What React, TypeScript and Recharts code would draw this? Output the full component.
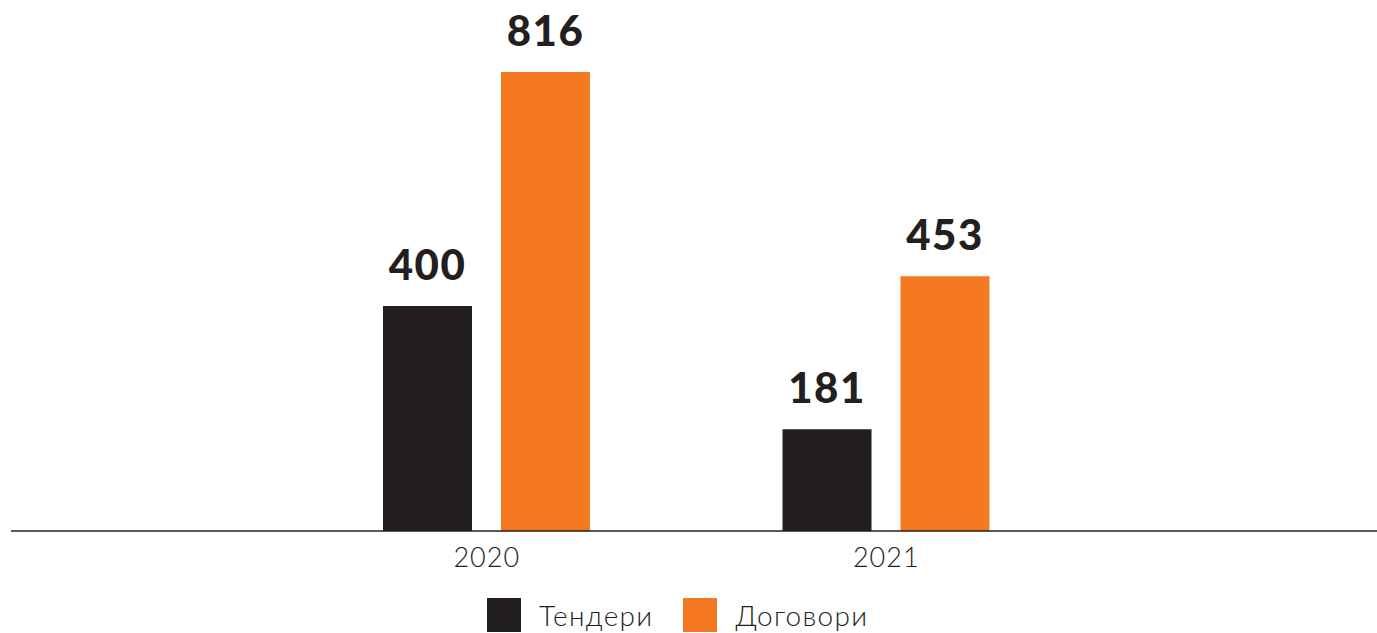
import React from "react";
import { BarChart, Bar, XAxis, YAxis, Legend, LabelList } from "recharts";

const categories = ["2020", "2021"];
const tenders = [400, 181];
const contracts = [816, 453];
const seriesNames = ["Тендери", "Договори"];
const seriesColors = ["#231f20", "#f47920"];

const data = categories.map((c, i) => ({
  year: c,
  tenders: tenders[i],
  contracts: contracts[i],
}));

const FONT = "Lato, 'Open Sans', sans-serif";

const renderLegend = () => {
  return (
    <div
      style={{
        display: "flex",
        alignItems: "center",
        paddingLeft: 487,
        height: 34,
        fontFamily: FONT,
      }}
    >
      {seriesNames.map((name, i) => (
        <div
          key={name}
          style={{ display: "flex", alignItems: "center", marginRight: 30 }}
        >
          <div style={{ width: 34, height: 34, background: seriesColors[i] }} />
          <span
            style={{
              marginLeft: 18,
              fontSize: 28,
              fontWeight: 300,
              color: "#231f20",
              lineHeight: "34px",
              letterSpacing: 1.3,
            }}
          >
            {name}
          </span>
        </div>
      ))}
    </div>
  );
};

const labelStyle = {
  fill: "#231f20",
  fontSize: 42,
  fontWeight: 900,
  fontFamily: FONT,
  letterSpacing: 1.5,
};

export default function App() {
  return (
    <div style={{ position: "absolute", left: 0, top: 0, width: 1377, height: 633, background: "#fff" }}>
      <BarChart
        width={1377}
        height={633}
        data={data}
        margin={{ top: 72, right: 0, bottom: 1, left: 11 }}
        barSize={89}
        barGap={29}
      >
        <XAxis
          dataKey="year"
          height={67}
          padding={{ left: 276, right: 291 }}
          axisLine={{ stroke: "#231f20", strokeWidth: 1.5 }}
          tickLine={false}
          tickSize={0}
          tickMargin={17}
          tick={{ fill: "#231f20", fontSize: 27, fontWeight: 300, fontFamily: FONT, letterSpacing: 1 }}
        />
        <YAxis hide domain={[0, 816]} />
        <Legend
          verticalAlign="bottom"
          content={renderLegend}
          wrapperStyle={{ left: 0, width: 1377, bottom: 1, height: 34 }}
        />
        <Bar dataKey="tenders" name={seriesNames[0]} fill={seriesColors[0]} isAnimationActive={false}>
          <LabelList dataKey="tenders" position="top" offset={26} style={labelStyle} />
        </Bar>
        <Bar dataKey="contracts" name={seriesNames[1]} fill={seriesColors[1]} isAnimationActive={false}>
          <LabelList dataKey="contracts" position="top" offset={26} style={labelStyle} />
        </Bar>
      </BarChart>
    </div>
  );
}
